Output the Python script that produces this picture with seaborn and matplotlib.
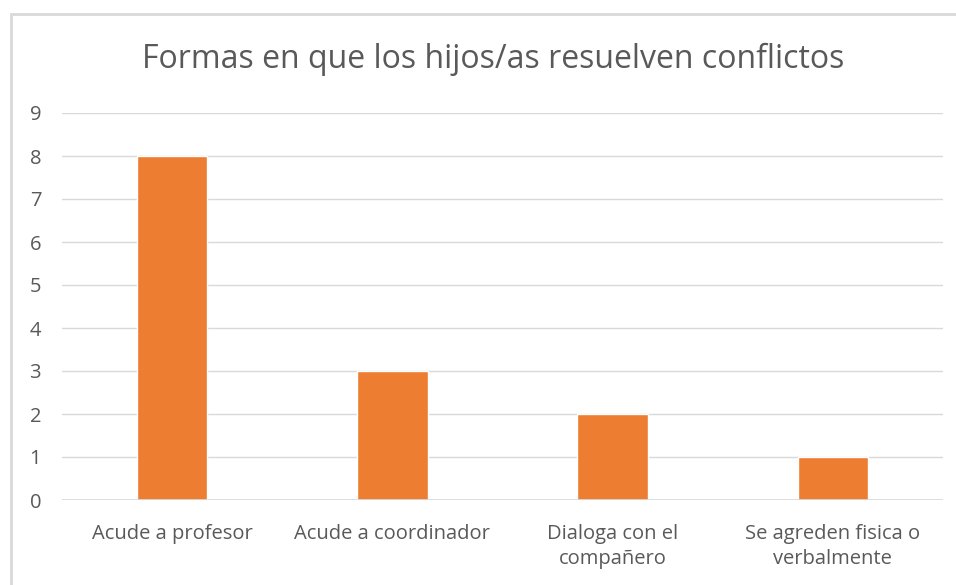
import matplotlib
matplotlib.use('Agg')
import pandas as pd
import matplotlib.pyplot as plt
import seaborn as sns
from matplotlib.patches import Rectangle

# data
categorias = ['Acude a profesor', 'Acude a coordinador', 'Dialoga con el\ncompañero', 'Se agreden fisica o\nverbalmente']
valores = [8, 3, 2, 1]
titulo = 'Formas en que los hijos/as resuelven conflictos'

df = pd.DataFrame({'forma': categorias, 'n': valores})

sns.set_theme(style='white')
plt.rcParams['font.family'] = ['Open Sans', 'DejaVu Sans']
texto = '#595959'

fig = plt.figure(figsize=(9.56, 5.85), dpi=100)
# chart border like the Excel frame
fig.patches.append(Rectangle((11 / 956, -0.1), 1.2, 1.1 - 14 / 585,
                             transform=fig.transFigure, fill=False,
                             edgecolor='#d9d9d9', linewidth=2))
ax = fig.add_axes([62 / 956, 1 - 500 / 585, (943 - 62) / 956, (500 - 113) / 585])

sns.barplot(data=df, x='forma', y='n', color='#ED7D31', width=0.32, saturation=1, ax=ax, zorder=3)

ax.set_ylim(0, 9)
ax.set_yticks(range(0, 10))
ax.yaxis.grid(True, color='#d9d9d9', linewidth=1, zorder=0)
for s in ax.spines.values():
    s.set_visible(False)
ax.axhline(0, color='#d9d9d9', linewidth=1.2, zorder=4)
ax.tick_params(axis='both', length=0, labelsize=14.5, colors=texto)
ax.tick_params(axis='y', pad=15)
ax.tick_params(axis='x', pad=17)
for lbl in ax.get_xticklabels():
    lbl.set_linespacing(1.35)
ax.set_xlabel('')
ax.set_ylabel('')
fig.text(493 / 956, 1 - 59 / 585, titulo, ha='center', va='center', fontsize=23, color=texto)

fig.savefig('out.png', dpi=100)
